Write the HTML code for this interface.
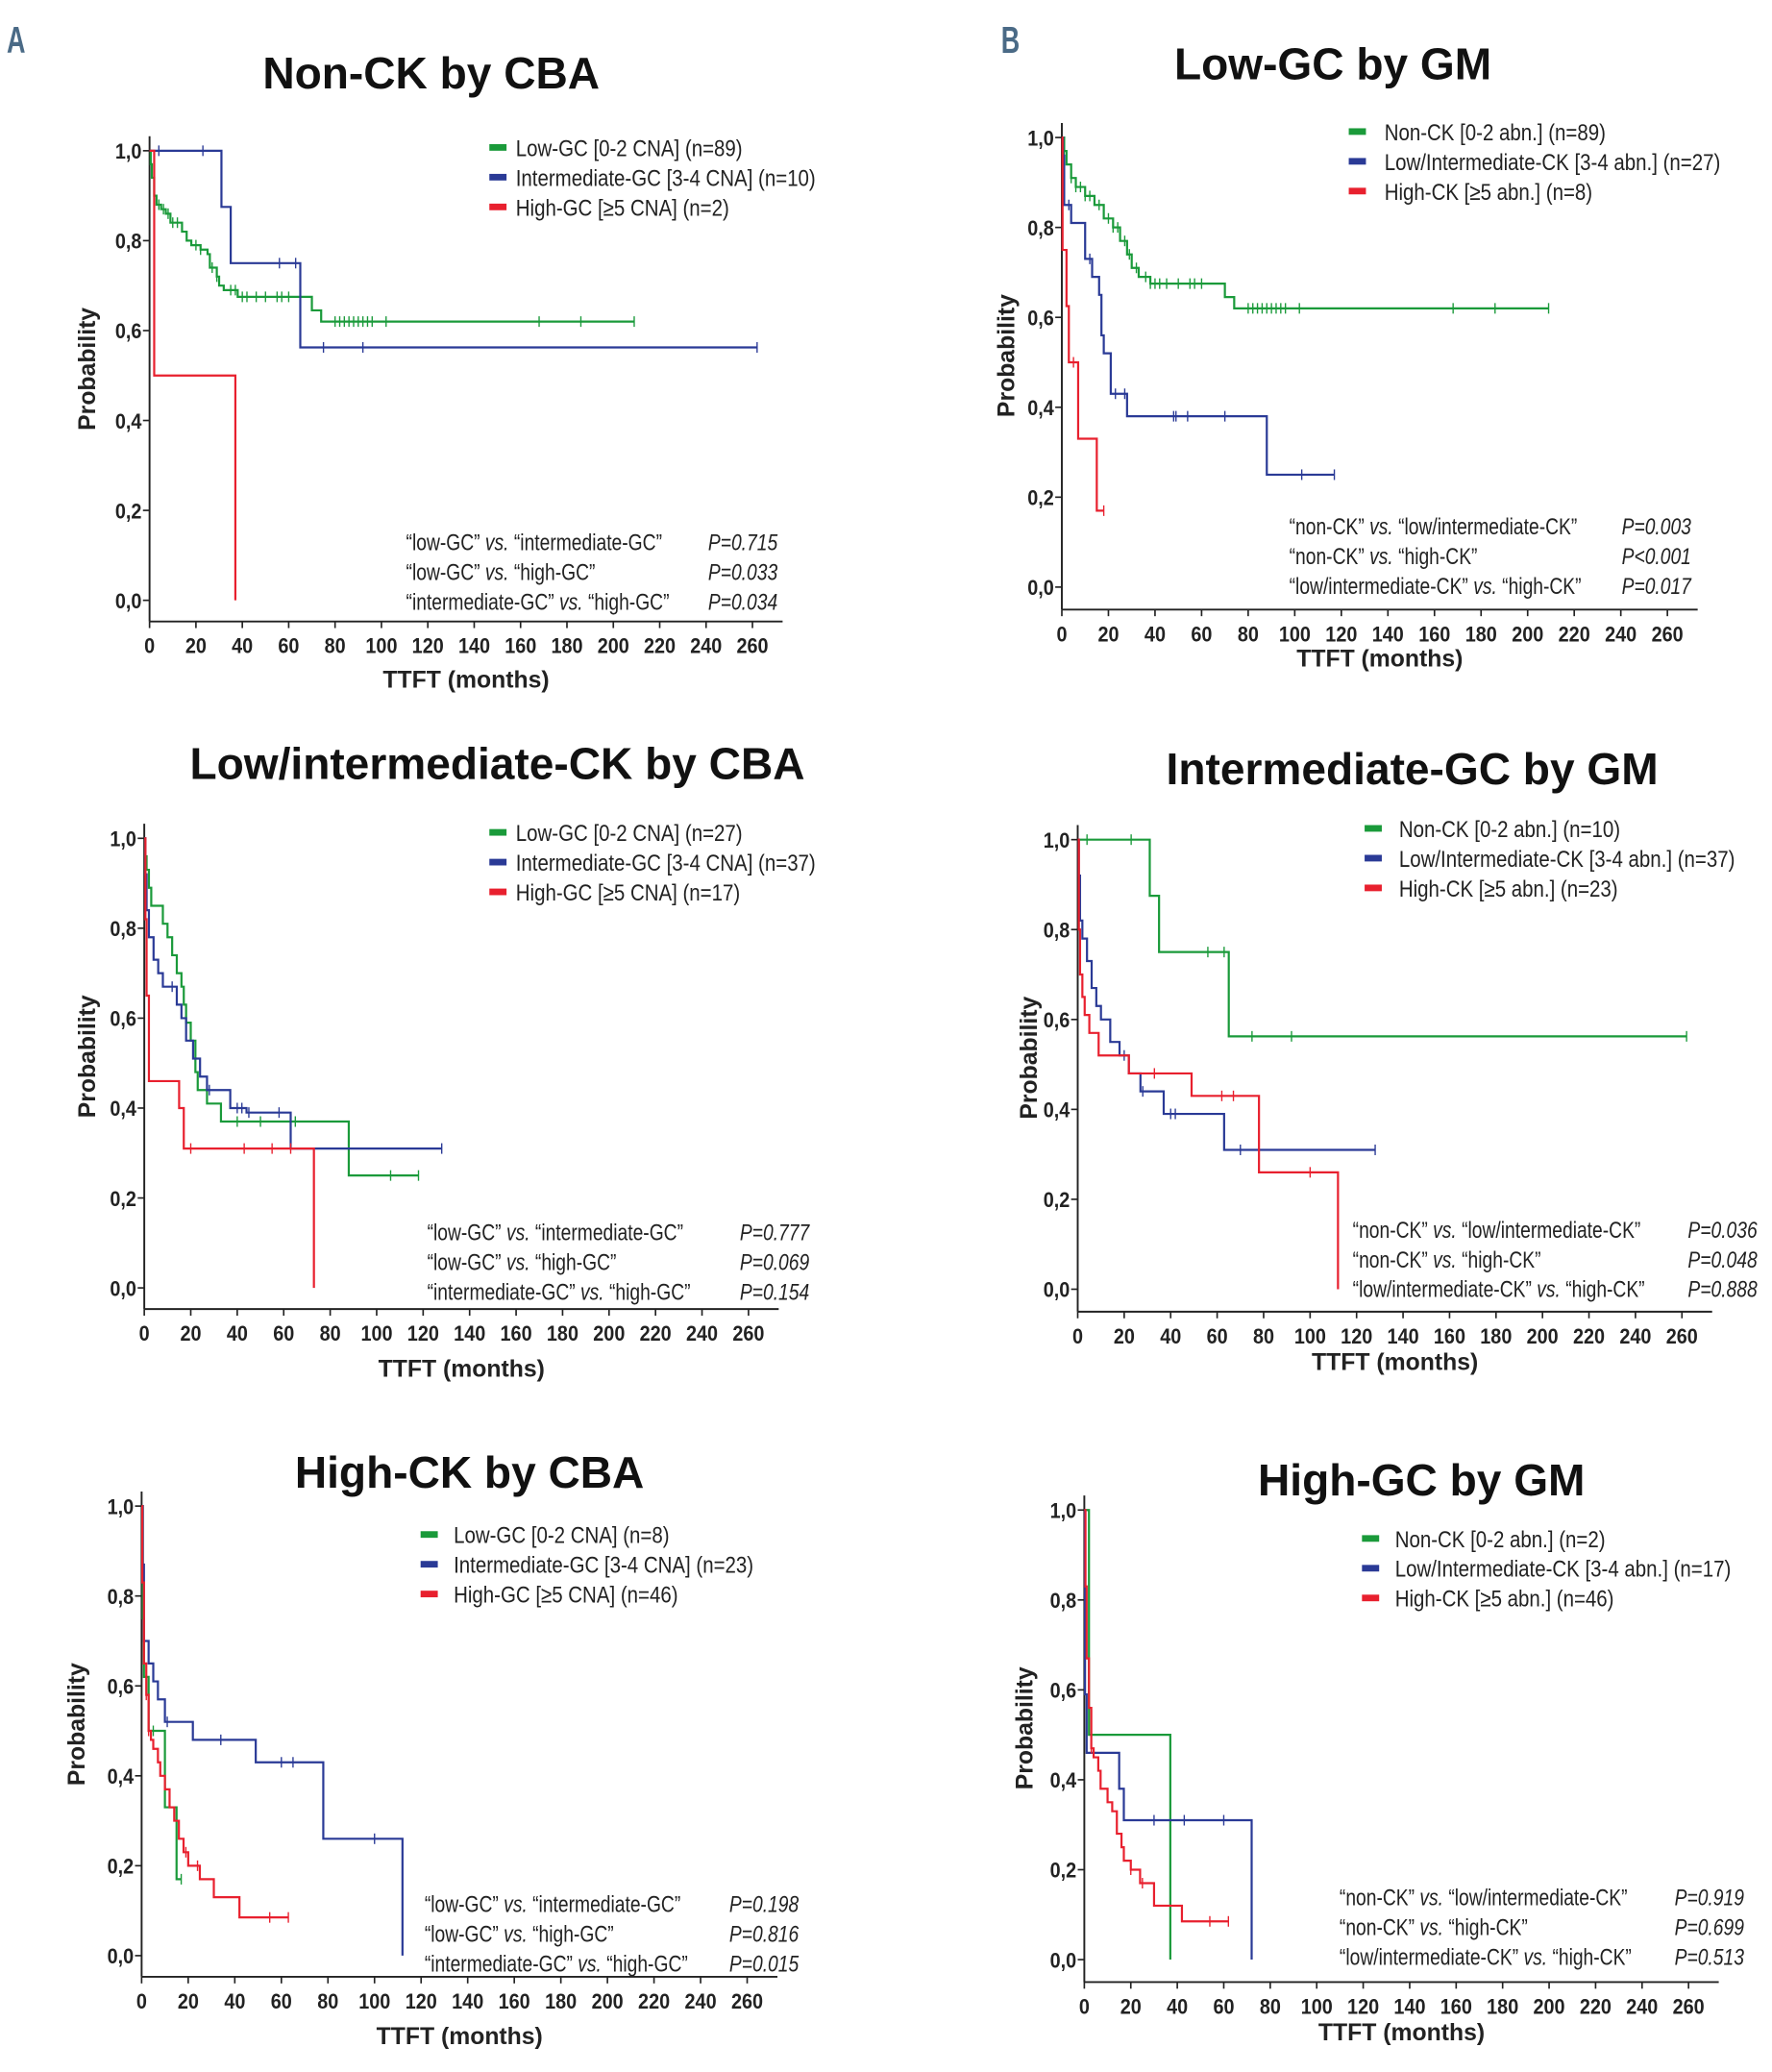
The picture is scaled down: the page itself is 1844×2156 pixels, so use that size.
<!DOCTYPE html>
<html><head><meta charset="utf-8"><style>
html,body{margin:0;padding:0;background:#fff;}
svg{display:block;}
text{font-family:"Liberation Sans",sans-serif;}
</style></head><body>
<svg id="fig" width="1844" height="2156" viewBox="0 0 1340 1567" xmlns="http://www.w3.org/2000/svg">
<text x="5" y="40" font-size="28" font-weight="bold" fill="#4a6a86" transform="translate(5,0) scale(0.7,1) translate(-5,0)">A</text>
<text x="757" y="40" font-size="28" font-weight="bold" fill="#4a6a86" transform="translate(757,0) scale(0.7,1) translate(-757,0)">B</text>
</svg>
<script>
const GREEN='#1a9a3a', BLUE='#2a3a96', RED='#e8202e';
// Panel A1: Non-CK by CBA
const a1GreenT=[0.5,1,2,3,5,7,9,14,16,18,22,25,26,29,30,32,38,70,74];
const a1GreenS=[0.97,0.94,0.9,0.88,0.87,0.86,0.84,0.82,0.80,0.79,0.78,0.77,0.74,0.72,0.70,0.69,0.675,0.645,0.62];
const a1GreenC=[4,6,8,10,12,20,22,27,29,35,37,40,42,46,50,55,57,60,80,82,84,86,88,90,92,94,96,102,168,186,209];
const a1BlueT=[31,35,65];
const a1BlueS=[0.875,0.75,0.5625];
const a1BlueC=[4,23,56,63,75,92,262];
const a1RedT=[2,37];
const a1RedS=[0.5,0];
const a1RedC=[];
// Panel A2: Low/intermediate-CK by CBA
const a2GreenT=[0.5,1,2,3,8,10,12,14,16,17,18,20,22,23,27,33,88];
const a2GreenS=[0.96,0.93,0.89,0.85,0.81,0.78,0.74,0.70,0.67,0.63,0.59,0.55,0.48,0.44,0.41,0.37,0.25];
const a2GreenC=[40,50,65,106,118];
const a2BlueT=[0.5,1,2,4,6,8,14,16,18,21,24,27,37,44,63];
const a2BlueS=[0.92,0.84,0.78,0.73,0.70,0.67,0.63,0.60,0.55,0.51,0.47,0.44,0.40,0.39,0.31];
const a2BlueC=[12,28,40,42,45,58,128];
const a2RedT=[0.5,1,2,15,17,73];
const a2RedS=[0.82,0.65,0.46,0.40,0.31,0];
const a2RedC=[20,43,55,63];
// Panel A3: High-CK by CBA
const a3GreenT=[0.5,1,3,10,15];
const a3GreenS=[0.75,0.62,0.5,0.33,0.17];
const a3GreenC=[5,17];
const a3BlueT=[0.5,1,3,5,7,10,22,49,78,112];
const a3BlueS=[0.87,0.7,0.65,0.61,0.57,0.52,0.48,0.43,0.26,0];
const a3BlueC=[11,34,60,65,100];
const a3RedT=[0.3,1,2,3,4,5,7,8,10,12,14,16,18,20,25,31,42];
const a3RedS=[0.83,0.65,0.58,0.5,0.48,0.46,0.43,0.4,0.37,0.33,0.3,0.26,0.23,0.2,0.17,0.13,0.085];
const a3RedC=[2,3,19,24,55,63];
// Panel B1: Low-GC by GM
const b1GreenT=[1,2,4,6,10,14,18,22,25,28,30,33,38,70,74];
const b1GreenS=[0.97,0.94,0.91,0.89,0.87,0.85,0.82,0.80,0.77,0.74,0.71,0.69,0.675,0.645,0.62];
const b1GreenC=[1,4,6,8,10,12,16,20,22,24,27,29,32,36,38,40,42,45,50,55,57,60,80,82,84,86,88,90,92,94,96,102,168,186,209];
const b1BlueT=[0.5,1,4,10,13,16,17,18,21,28,88];
const b1BlueS=[0.96,0.85,0.81,0.73,0.69,0.65,0.56,0.52,0.43,0.38,0.25];
const b1BlueC=[3,12,23,27,48,49,54,70,103,117];
const b1RedT=[0.3,2,3,7,15];
const b1RedS=[0.75,0.625,0.5,0.33,0.17];
const b1RedC=[5,18];
// Panel B2: Intermediate-GC by GM
const b2GreenT=[31,35,65];
const b2GreenS=[0.875,0.75,0.5625];
const b2GreenC=[4,23,56,63,75,92,262];
const b2BlueT=[0.5,1,2,4,6,8,10,14,18,22,27,37,63];
const b2BlueS=[0.92,0.82,0.78,0.73,0.67,0.63,0.6,0.55,0.52,0.48,0.44,0.39,0.31];
const b2BlueC=[20,28,40,42,70,128];
const b2RedT=[0.5,1,2,3,5,9,22,49,78,112];
const b2RedS=[0.8,0.7,0.65,0.61,0.57,0.52,0.48,0.43,0.26,0];
const b2RedC=[33,62,67,100];
// Panel B3: High-GC by GM
const b3GreenT=[2,37];
const b3GreenS=[0.5,0];
const b3GreenC=[];
const b3BlueT=[0.3,1,15,17,72];
const b3BlueS=[0.59,0.46,0.38,0.31,0];
const b3BlueC=[30,43,60];
const b3RedT=[0.5,1,2,3,4,6,7,10,12,14,16,17,20,24,30,42];
const b3RedS=[0.83,0.67,0.56,0.47,0.45,0.42,0.38,0.35,0.33,0.28,0.25,0.22,0.2,0.17,0.12,0.085];
const b3RedC=[3,20,25,54,62];
const xTicks=[0,20,40,60,80,100,120,140,160,180,200,220,240,260];
const yTicks=[0,0.2,0.4,0.6,0.8,1.0];
const yTickLabels=['0,0','0,2','0,4','0,6','0,8','1,0'];

const panels=[
 {id:'a1',title:'Non-CK by CBA',tx:326,ty:67,ax:113,y1:114,y0:454,xa:470,x260:569,lx:370,ltx:390,ly:112,
  leg:['Low-GC [0-2 CNA] (n=89)','Intermediate-GC [3-4 CNA] (n=10)','High-GC [≥5 CNA] (n=2)'],
  pv:[['“low-GC” ','vs.',' “intermediate-GC”','P=0.715'],['“low-GC” ','vs.',' “high-GC”','P=0.033'],['“intermediate-GC” ','vs.',' “high-GC”','P=0.034']],px:307,pr:588,py:410,xl:514,ylx:72,
  s:[[a1GreenT,a1GreenS,a1GreenC,209],[a1BlueT,a1BlueS,a1BlueC,262],[a1RedT,a1RedS,a1RedC,37]]},
 {id:'a2',title:'Low/intermediate-CK by CBA',tx:376,ty:589,ax:109,y1:634,y0:974,xa:990,x260:566,lx:370,ltx:390,ly:630,
  leg:['Low-GC [0-2 CNA] (n=27)','Intermediate-GC [3-4 CNA] (n=37)','High-GC [≥5 CNA] (n=17)'],
  pv:[['“low-GC” ','vs.',' “intermediate-GC”','P=0.777'],['“low-GC” ','vs.',' “high-GC”','P=0.069'],['“intermediate-GC” ','vs.',' “high-GC”','P=0.154']],px:323,pr:612,py:932,xl:1035,ylx:72,
  s:[[a2GreenT,a2GreenS,a2GreenC,118],[a2BlueT,a2BlueS,a2BlueC,128],[a2RedT,a2RedS,a2RedC,73]]},
 {id:'a3',title:'High-CK by CBA',tx:355,ty:1125,ax:107,y1:1139,y0:1479,xa:1495,x260:565,lx:318,ltx:343,ly:1161,
  leg:['Low-GC [0-2 CNA] (n=8)','Intermediate-GC [3-4 CNA] (n=23)','High-GC [≥5 CNA] (n=46)'],
  pv:[['“low-GC” ','vs.',' “intermediate-GC”','P=0.198'],['“low-GC” ','vs.',' “high-GC”','P=0.816'],['“intermediate-GC” ','vs.',' “high-GC”','P=0.015']],px:321,pr:604,py:1440,xl:1540,ylx:64,
  s:[[a3GreenT,a3GreenS,a3GreenC,17],[a3BlueT,a3BlueS,a3BlueC,112],[a3RedT,a3RedS,a3RedC,63]]},
 {id:'b1',title:'Low-GC by GM',tx:1008,ty:60,ax:803,y1:104,y0:444,xa:461,x260:1261,lx:1020,ltx:1047,ly:100,
  leg:['Non-CK [0-2 abn.] (n=89)','Low/Intermediate-CK [3-4 abn.] (n=27)','High-CK [≥5 abn.] (n=8)'],
  pv:[['“non-CK” ','vs.',' “low/intermediate-CK”','P=0.003'],['“non-CK” ','vs.',' “high-CK”','P<0.001'],['“low/intermediate-CK” ','vs.',' “high-CK”','P=0.017']],px:975,pr:1279,py:398,xl:498,ylx:767,
  s:[[b1GreenT,b1GreenS,b1GreenC,209],[b1BlueT,b1BlueS,b1BlueC,117],[b1RedT,b1RedS,b1RedC,18]]},
 {id:'b2',title:'Intermediate-GC by GM',tx:1068,ty:593,ax:815,y1:635,y0:975,xa:992,x260:1272,lx:1032,ltx:1058,ly:627,
  leg:['Non-CK [0-2 abn.] (n=10)','Low/Intermediate-CK [3-4 abn.] (n=37)','High-CK [≥5 abn.] (n=23)'],
  pv:[['“non-CK” ','vs.',' “low/intermediate-CK”','P=0.036'],['“non-CK” ','vs.',' “high-CK”','P=0.048'],['“low/intermediate-CK” ','vs.',' “high-CK”','P=0.888']],px:1023,pr:1329,py:930,xl:1030,ylx:784,
  s:[[b2GreenT,b2GreenS,b2GreenC,262],[b2BlueT,b2BlueS,b2BlueC,128],[b2RedT,b2RedS,b2RedC,112]]},
 {id:'b3',title:'High-GC by GM',tx:1075,ty:1131,ax:820,y1:1142,y0:1482,xa:1499,x260:1277,lx:1030,ltx:1055,ly:1164,
  leg:['Non-CK [0-2 abn.] (n=2)','Low/Intermediate-CK [3-4 abn.] (n=17)','High-CK [≥5 abn.] (n=46)'],
  pv:[['“non-CK” ','vs.',' “low/intermediate-CK”','P=0.919'],['“non-CK” ','vs.',' “high-CK”','P=0.699'],['“low/intermediate-CK” ','vs.',' “high-CK”','P=0.513']],px:1013,pr:1319,py:1435,xl:1537,ylx:781,
  s:[[b3GreenT,b3GreenS,b3GreenC,37],[b3BlueT,b3BlueS,b3BlueC,72],[b3RedT,b3RedS,b3RedC,62]]}
];
const NS='http://www.w3.org/2000/svg';
const svg=document.getElementById('fig');
function mk(tag,attrs,parent){const e=document.createElementNS(NS,tag);for(const k in attrs)e.setAttribute(k,attrs[k]);parent.appendChild(e);return e;}
const colors=[GREEN,BLUE,RED];
const snames=['green','blue','red'];
panels.forEach(p=>{
  const g=mk('g',{},svg);
  
  
  const X=t=>p.ax+(p.x260-p.ax)*t/260;
  const Y=s=>p.y0+(p.y1-p.y0)*s;
  const t=mk('text',{x:p.tx,y:p.ty,'font-size':33.5,'font-weight':'bold','text-anchor':'middle',fill:'#111'},g);
  t.textContent=p.title;
  
  
  const ya=mk('line',{x1:p.ax,y1:p.y1-11,x2:p.ax,y2:p.xa,stroke:'#222','stroke-width':1.4},g);
  
  
  const xa=mk('line',{x1:p.ax,y1:p.xa,x2:X(273),y2:p.xa,stroke:'#222','stroke-width':1.4},g);
  
  
  yTicks.forEach((v,i)=>{
    mk('line',{x1:p.ax-5,y1:Y(v),x2:p.ax,y2:Y(v),stroke:'#222','stroke-width':1.2},g);
    const tl=mk('text',{x:0,y:0,'font-size':16,'font-weight':'bold','text-anchor':'end',fill:'#222',transform:`translate(${p.ax-6},${Y(v)+6}) scale(0.9,1)`},g);
    tl.textContent=yTickLabels[i];
    
    
  });
  xTicks.forEach(v=>{
    mk('line',{x1:X(v),y1:p.xa,x2:X(v),y2:p.xa+5,stroke:'#222','stroke-width':1.2},g);
    const tl=mk('text',{x:0,y:0,'font-size':16,'font-weight':'bold','text-anchor':'middle',fill:'#222',transform:`translate(${X(v)},${p.xa+24}) scale(0.9,1)`},g);
    tl.textContent=String(v);
    
    
  });
  const xl=mk('text',{x:(p.ax+X(273))/2,y:p.xl+6,'font-size':18,'font-weight':'bold','text-anchor':'middle',fill:'#222'},g);
  xl.textContent='TTFT (months)';
  
  
  const yc=(p.y1+p.y0)/2-5;
  const yl=mk('text',{x:0,y:0,'font-size':18,'font-weight':'bold','text-anchor':'middle',fill:'#222',transform:`translate(${p.ylx},${yc}) rotate(-90)`},g);
  yl.textContent='Probability';
  
  
  p.s.forEach((ser,k)=>{
    const [T,S,C,end]=ser;
    let d=`M${X(0)},${Y(1)}`; let cur=1;
    T.forEach((tt,i)=>{d+=` H${X(tt)} V${Y(S[i])}`;cur=S[i];});
    if(cur>0) d+=` H${X(end)}`;
    const path=mk('path',{d:d,fill:'none',stroke:colors[k],'stroke-width':1.6},g);
    
    
    C.forEach(c=>{
      let s=1; T.forEach((tt,i)=>{if(tt<=c)s=S[i];});
      const cm=mk('line',{x1:X(c),y1:Y(s)-4,x2:X(c),y2:Y(s)+4,stroke:colors[k],'stroke-width':1},g);
      
      
    });
  });
  p.leg.forEach((lab,i)=>{
    const yy=p.ly+i*22.5;
    const sw=mk('rect',{x:p.lx,y:yy-3,width:13,height:5,fill:colors[i]},g);
    
    
    const lt=mk('text',{x:0,y:0,'font-size':17.5,fill:'#222',transform:`translate(${p.ltx},${yy+6}) scale(0.85,1)`},g);
    lt.textContent=lab;
    
    
  });
  p.pv.forEach((r,i)=>{
    const yy=p.py+i*22.5+6;
    const pt=mk('text',{x:0,y:0,'font-size':17.5,fill:'#222',transform:`translate(${p.px},${yy}) scale(0.8,1)`},g);
    const a=mk('tspan',{},pt); a.textContent=r[0];
    const b=mk('tspan',{'font-style':'italic'},pt); b.textContent=r[1];
    const c=mk('tspan',{},pt); c.textContent=r[2];
    
    
    const pvv=mk('text',{x:0,y:0,'font-size':17.5,'font-style':'italic','text-anchor':'end',fill:'#222',transform:`translate(${p.pr},${yy}) scale(0.8,1)`},g);
    pvv.textContent=r[3];
    
    
  });
});
</script>
</body></html>
